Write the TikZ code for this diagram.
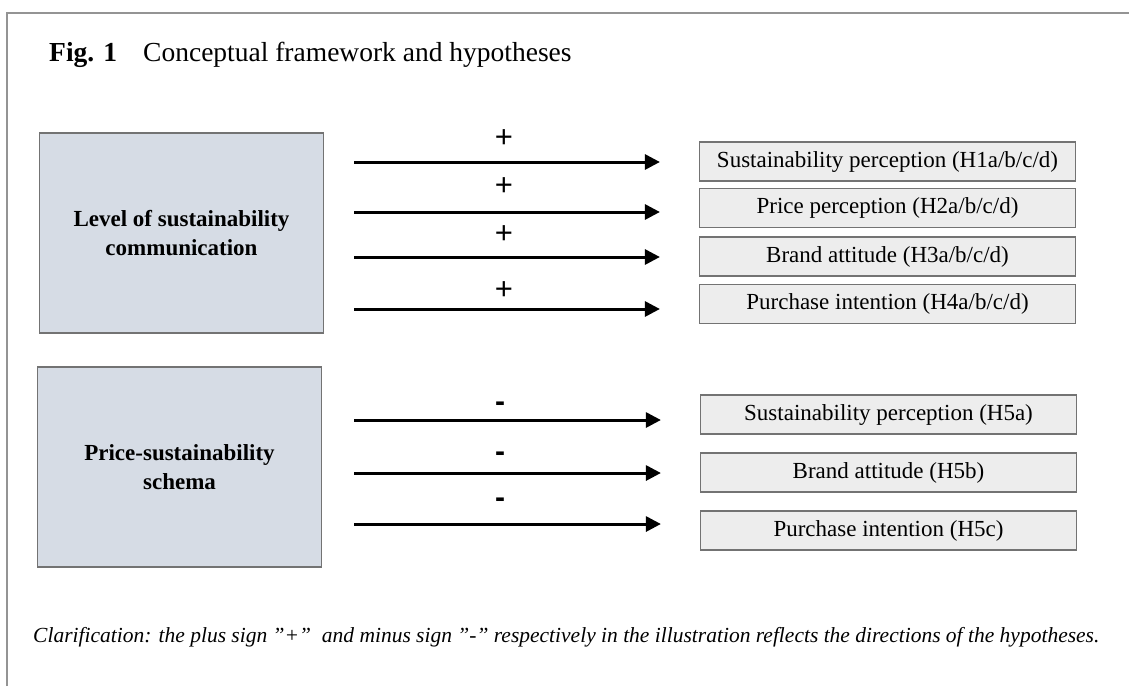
\documentclass[tikz,border=0pt]{standalone}
\usepackage{fontspec}
\setmainfont{Liberation Serif}
\newfontfamily\signfont{Liberation Sans}
\usetikzlibrary{arrows.meta,positioning}

\definecolor{factorfill}{RGB}{214,220,229}
\definecolor{outcomefill}{RGB}{237,237,237}

\tikzset{
  framerule/.style={draw=black!42,line width=1.5pt},
  factor/.style={draw=black!55,fill=factorfill,line width=1.2pt,
    minimum width=284pt,minimum height=200pt,inner sep=0pt,align=center,
    font=\fontsize{23}{29}\selectfont\bfseries},
  outcome/.style={draw=black!55,fill=outcomefill,line width=1.2pt,
    minimum width=376pt,minimum height=39pt,inner sep=0pt,
    font=\fontsize{23}{27}\selectfont},
  effect/.style={-{Triangle[length=15pt,width=15pt]},line width=3pt,shorten >=39pt},
  plus/.style={font=\signfont\fontsize{31}{31}\selectfont,inner sep=0pt},
  minus/.style={font=\signfont\bfseries\fontsize{30}{30}\selectfont,inner sep=0pt},
  label/.style={anchor=base west,inner sep=0pt},
}

\begin{document}
\begin{tikzpicture}[x=1pt,y=-1pt]
\useasboundingbox (0,0) rectangle (1129,686);

% frame
\draw[framerule] (7,686) -- (7,13) -- (1129,13);

% title
\node[label,font=\fontsize{27.5}{30}\selectfont\bfseries] (fig) at (49,61) {Fig. 1};
\node[label,font=\fontsize{27.5}{30}\selectfont] (title) at (143,61) {Conceptual framework and hypotheses};

% left factors
\node[factor] (lsc) at (181.5,233) {Level of sustainability\\communication};
\node[factor] (pss) at (179.5,467) {Price-sustainability\\schema};

% outcomes of sustainability communication
\node[outcome] (sp1) at (887.5,161.5) {Sustainability perception (H1a/b/c/d)};
\node[outcome] (pp)  at (887.5,208)   {Price perception (H2a/b/c/d)};
\node[outcome] (ba1) at (887.5,256.5) {Brand attitude (H3a/b/c/d)};
\node[outcome] (pi1) at (887.5,304)   {Purchase intention (H4a/b/c/d)};

% outcomes of the schema
\node[outcome] (sp2) at (888.5,414.5) {Sustainability perception (H5a)};
\node[outcome] (ba2) at (888.5,472.5) {Brand attitude (H5b)};
\node[outcome] (pi2) at (888.5,530.5) {Purchase intention (H5c)};

% arrow tails
\coordinate (a1) at (354,162);
\coordinate (a2) at (354,212);
\coordinate (a3) at (354,257);
\coordinate (a4) at (354,309);
\coordinate (b1) at (354,420);
\coordinate (b2) at (354,473);
\coordinate (b3) at (354,524);

\draw[effect] (a1) -- (a1 -| sp1.west);
\draw[effect] (a2) -- (a2 -| pp.west);
\draw[effect] (a3) -- (a3 -| ba1.west);
\draw[effect] (a4) -- (a4 -| pi1.west);
\draw[effect] (b1) -- (b1 -| sp2.west);
\draw[effect] (b2) -- (b2 -| ba2.west);
\draw[effect] (b3) -- (b3 -| pi2.west);

% signs
\node[plus] (s1) at (504,139) {+};
\node[plus] (s2) at (504,187) {+};
\node[plus] (s3) at (504,235) {+};
\node[plus] (s4) at (504,291) {+};
\node[minus] (m1) at (500,407) {-};
\node[minus] (m2) at (500,457) {-};
\node[minus] (m3) at (500,503) {-};

% note
\node[label,font=\fontsize{21.5}{26}\selectfont\itshape] (note) at (33,642)
  {Clarification: the plus sign ”+”\ \ and minus sign ”-” respectively in the illustration reflects the directions of the hypotheses.};
\end{tikzpicture}
\end{document}
